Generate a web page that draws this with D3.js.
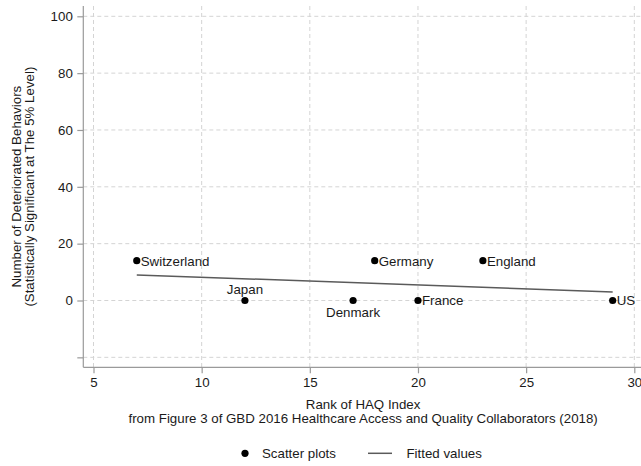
<!DOCTYPE html>
<html>
<head>
<meta charset="utf-8">
<script src="https://cdn.jsdelivr.net/npm/d3@7"></script>
<style>
  html, body { margin: 0; padding: 0; background: #fff; }
  svg { display: block; font-family: "Liberation Sans", Arial, Helvetica, sans-serif; }
</style>
</head>
<body>
<svg id="chart" width="641" height="466"></svg>
<script>
// Countries ranked by HAQ index vs. number of deteriorated behaviors
const countries = ["Switzerland", "Japan", "Denmark", "Germany", "France", "England", "US"];
const haqRank   = [7, 12, 17, 18, 20, 23, 29];
const behaviors = [14, 0, 0, 14, 0, 14, 0];
// label placement around each marker (clock position, as in mlabpos)
const labelPos  = ["right", "top", "bottom", "right", "right", "right", "right"];

// Fitted values (linear fit) at the ends of the data range
const fitRank   = [7, 29];
const fitValue  = [9, 3];

const xTicks = [5, 10, 15, 20, 25, 30];
const yTicks = [-20, 0, 20, 40, 60, 80, 100];
const yTickLabels = ["", "0", "20", "40", "60", "80", "100"];

const svg = d3.select("#chart");
const plotL = 83.3, plotR = 643, plotT = 6, plotB = 367.3;
const fontSize = "13.3px";

const x = d3.scaleLinear().domain([5, 30]).range([93.5, 634.3]);
const y = d3.scaleLinear().domain([0, 100]).range([300.5, 16.3]);

const gridColor = "#d4d4d4";
const axisColor = "#9a9a9a";
const textColor = "#1a1a1a";

// grid
const grid = svg.append("g");
grid.selectAll("line.h").data(yTicks).join("line")
  .attr("x1", plotL).attr("x2", plotR)
  .attr("y1", d => y(d)).attr("y2", d => y(d))
  .attr("stroke", gridColor).attr("stroke-width", 1)
  .attr("stroke-dasharray", "4,3");
grid.selectAll("line.v").data(xTicks).join("line")
  .attr("x1", d => x(d)).attr("x2", d => x(d))
  .attr("y1", plotT).attr("y2", plotB)
  .attr("stroke", gridColor).attr("stroke-width", 1)
  .attr("stroke-dasharray", "4,3");

// axes
const yAxis = d3.axisLeft(y).tickValues(yTicks)
  .tickFormat((d, i) => yTickLabels[i]).tickSize(6).tickPadding(4.5).tickSizeOuter(0);
const gy = svg.append("g").attr("transform", `translate(${plotL},0)`).call(yAxis);
gy.select(".domain").remove();
svg.append("line").attr("x1", plotL).attr("x2", plotL).attr("y1", plotT).attr("y2", plotB)
  .attr("stroke", axisColor).attr("stroke-width", 1.2);

const xAxis = d3.axisBottom(x).tickValues(xTicks).tickSize(6).tickPadding(4.5).tickSizeOuter(0);
const gx = svg.append("g").attr("transform", `translate(0,${plotB})`).call(xAxis);
gx.select(".domain").remove();
svg.append("line").attr("x1", plotL).attr("x2", plotR).attr("y1", plotB).attr("y2", plotB)
  .attr("stroke", axisColor).attr("stroke-width", 1.2);

[gx, gy].forEach(g => {
  g.selectAll(".tick line").attr("stroke", axisColor).attr("stroke-width", 1.2);
  g.selectAll(".tick text").attr("fill", textColor).style("font-size", fontSize)
    .style("font-family", "'Liberation Sans', Arial, sans-serif");
});

// fitted line
svg.append("path")
  .datum(fitRank.map((r, i) => [r, fitValue[i]]))
  .attr("d", d3.line().x(d => x(d[0])).y(d => y(d[1])))
  .attr("fill", "none").attr("stroke", "#5a5a5a").attr("stroke-width", 1.5);

// scatter points
const pts = countries.map((c, i) => ({ name: c, r: haqRank[i], v: behaviors[i], pos: labelPos[i] }));
svg.append("g").selectAll("circle").data(pts).join("circle")
  .attr("cx", d => x(d.r)).attr("cy", d => y(d.v)).attr("r", 3.6)
  .attr("fill", "#000");

// marker labels
svg.append("g").selectAll("text").data(pts).join("text")
  .attr("x", d => d.pos === "right" ? x(d.r) + 4 : x(d.r))
  .attr("y", d => d.pos === "top" ? y(d.v) - 7 : d.pos === "bottom" ? y(d.v) + 16 : y(d.v) + 4.8)
  .attr("text-anchor", d => d.pos === "right" ? "start" : "middle")
  .attr("fill", textColor).style("font-size", fontSize)
  .text(d => d.name);

// axis titles
const midX = (plotL + plotR) / 2;
svg.append("text").attr("x", midX).attr("y", 409).attr("text-anchor", "middle")
  .attr("fill", textColor).style("font-size", fontSize).text("Rank of HAQ Index");
svg.append("text").attr("x", midX).attr("y", 423).attr("text-anchor", "middle")
  .attr("fill", textColor).style("font-size", fontSize)
  .text("from Figure 3 of GBD 2016 Healthcare Access and Quality Collaborators (2018)");

const midY = (plotT + plotB) / 2;
const yt = svg.append("text").attr("transform", `translate(21,${midY}) rotate(-90)`)
  .attr("text-anchor", "middle").attr("fill", textColor).style("font-size", fontSize);
yt.append("tspan").attr("x", 0).attr("y", 0).text("Number of Deteriorated Behaviors");
yt.append("tspan").attr("x", 0).attr("y", 13.3).text("(Statistically Significant at The 5% Level)");

// legend
const lg = svg.append("g");
lg.append("circle").attr("cx", 245).attr("cy", 453.3).attr("r", 3.6).attr("fill", "#000");
lg.append("text").attr("x", 262).attr("y", 458).attr("fill", textColor)
  .style("font-size", fontSize).text("Scatter plots");
lg.append("line").attr("x1", 368).attr("x2", 392).attr("y1", 453.3).attr("y2", 453.3)
  .attr("stroke", "#5a5a5a").attr("stroke-width", 1.5);
lg.append("text").attr("x", 406.5).attr("y", 458).attr("fill", textColor)
  .style("font-size", fontSize).text("Fitted values");
</script>
</body>
</html>
